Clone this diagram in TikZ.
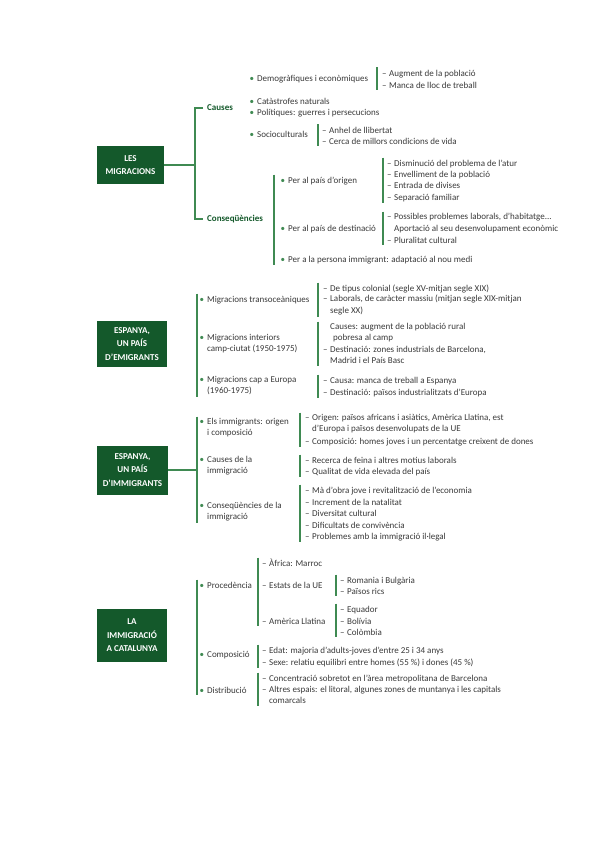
\documentclass[tikz,border=0pt]{standalone}
\usepackage{fontspec}
\setmainfont{Carlito}
\usetikzlibrary{calc}
\definecolor{boxg}{HTML}{14592B}
\definecolor{lineg}{HTML}{3F8A52}
\definecolor{txt}{HTML}{3A3A3A}
\newcommand{\st}{\rule{0pt}{7pt}}
\newcommand{\bu}{\llap{\textcolor{lineg}{•}\hspace{3.2pt}}}
\newcommand{\da}{\llap{–\hspace{2.6pt}}}
\newcommand{\gbar}[3]{\draw[bar] ($(#1.north west)+(-#3,-1.5)$) -- ($(#1.north west |- #2.south)+(-#3,1.5)$);}
\tikzset{
  item/.style={anchor=north west, inner sep=0pt, align=left, text=txt,
    font=\fontsize{9}{11.5}\selectfont, execute at begin node=\st},
  head/.style={anchor=west, inner sep=0pt, text=boxg, font=\bfseries\fontsize{9}{11}\selectfont},
  tbox/.style={fill=boxg, text=white, align=center, inner sep=0pt,
    font=\bfseries\fontsize{9}{13.5}\selectfont},
  bar/.style={draw=lineg, line width=1.1pt},
}
\begin{document}
\begin{tikzpicture}[x=1pt,y=-1pt]
\fill[white] (0,0) rectangle (599,848);
\useasboundingbox (0,0) rectangle (599,848);

% ================= Section 1 =================
\node[tbox, minimum width=67pt, minimum height=38pt] (lm) at (130.5,165) {LES\\MIGRACIONS};
\node[head] (causes) at (207,108) {Causes};
\node[head] (conseq) at (207,219) {Conseqüències};
\coordinate (b1) at (195,0);
\draw[bar] (lm.east) -- (lm.east -| b1);
\draw[bar] ([xshift=-4pt]causes.west) -- (causes.west -| b1) -- (conseq.west -| b1) -- ([xshift=-4pt]conseq.west);

\node[item] (ca1) at (257,74) {\bu Demogràfiques i econòmiques};
\node[item] (ca2) at (257,97) {\bu Catàstrofes naturals};
\node[item] (ca3) at (257,108) {\bu Polítiques: guerres i persecucions};
\node[item] (ca4) at (257,130) {\bu Socioculturals};

\node[item] (ca1a) at (389,69) {\da Augment de la població};
\node[item] (ca1b) at (389,81) {\da Manca de lloc de treball};
\gbar{ca1a}{ca1b}{12}
\node[item] (ca4a) at (329,126) {\da Anhel de llibertat};
\node[item] (ca4b) at (329,137) {\da Cerca de millors condicions de vida};
\gbar{ca4a}{ca4b}{11}

\node[item] (co1) at (288,176) {\bu Per al país d'origen};
\node[item] (co2) at (288,224) {\bu Per al país de destinació};
\node[item] (co3) at (288,255) {\bu Per a la persona immigrant: adaptació al nou medi};
\gbar{co1}{co3}{14}

\node[item] (co1a) at (394,159) {\da Disminució del problema de l'atur};
\node[item] (co1b) at (394,170) {\da Envelliment de la població};
\node[item] (co1c) at (394,181) {\da Entrada de divises};
\node[item] (co1d) at (394,193) {\da Separació familiar};
\gbar{co1a}{co1d}{11}
\node[item] (co2a) at (394,213) {\da Possibles problemes laborals, d'habitatge...\\Aportació al seu desenvolupament econòmic};
\node[item] (co2b) at (394,236) {\da Pluralitat cultural};
\gbar{co2a}{co2b}{11}

% ================= Section 2 =================
\node[tbox, minimum width=70pt, minimum height=46pt] (em) at (132,344) {ESPANYA,\\UN PAÍS\\D'EMIGRANTS};
\node[item] (e1) at (207,295) {\bu Migracions transoceàniques};
\node[item] (e2) at (207,334) {\bu Migracions interiors\\camp-ciutat (1950-1975)};
\node[item] (e3) at (207,376) {\bu Migracions cap a Europa\\(1960-1975)};
\gbar{e1}{e3}{10}

\node[item] (e1a) at (330,284) {\da De tipus colonial (segle XV-mitjan segle XIX)};
\node[item] (e1b) at (330,295) {\da Laborals, de caràcter massiu (mitjan segle XIX-mitjan\\segle XX)};
\gbar{e1a}{e1b}{12}
\node[item] (e2a) at (330,323) {Causes: augment de la població rural\\\hspace{3pt}pobresa al camp};
\node[item] (e2b) at (330,346) {\da Destinació: zones industrials de Barcelona,\\Madrid i el País Basc};
\gbar{e2a}{e2b}{12}
\node[item] (e3a) at (330,376) {\da Causa: manca de treball a Espanya};
\node[item] (e3b) at (330,388) {\da Destinació: països industrialitzats d'Europa};
\gbar{e3a}{e3b}{12}

% ================= Section 3 =================
\node[tbox, minimum width=71pt, minimum height=49pt] (im) at (132.5,470) {ESPANYA,\\UN PAÍS\\D'IMMIGRANTS};
\node[item] (f1) at (207,418) {\bu Els immigrants: origen\\i composició};
\node[item] (f2) at (207,456) {\bu Causes de la\\immigració};
\node[item] (f3) at (207,502) {\bu Conseqüències de la\\immigració};
\gbar{f1}{f3}{10}
\coordinate (b3) at (197,0);
\draw[bar] (im.east) -- (im.east -| b3);

\node[item] (f1a) at (312,414) {\da Origen: països africans i asiàtics, Amèrica Llatina, est\\d'Europa i països desenvolupats de la UE};
\node[item] (f1b) at (312,437) {\da Composició: homes joves i un percentatge creixent de dones};
\gbar{f1a}{f1b}{12}
\node[item] (f2a) at (312,456) {\da Recerca de feina i altres motius laborals};
\node[item] (f2b) at (312,467) {\da Qualitat de vida elevada del país};
\gbar{f2a}{f2b}{12}
\node[item] (f3a) at (312,486) {\da Mà d'obra jove i revitalització de l'economia};
\node[item] (f3b) at (312,498) {\da Increment de la natalitat};
\node[item] (f3c) at (312,509) {\da Diversitat cultural};
\node[item] (f3d) at (312,521) {\da Dificultats de convivència};
\node[item] (f3e) at (312,532) {\da Problemes amb la immigració il·legal};
\gbar{f3a}{f3e}{12}

% ================= Section 4 =================
\node[tbox, minimum width=70pt, minimum height=53pt] (cat) at (132,635.5) {LA\\IMMIGRACIÓ\\A CATALUNYA};
\node[item] (g1) at (207,581) {\bu Procedència};
\node[item] (g2) at (207,650) {\bu Composició};
\node[item] (g3) at (207,686) {\bu Distribució};
\gbar{g1}{g3}{10}

\node[item] (g1a) at (269,559) {\da Àfrica: Marroc};
\node[item] (g1b) at (269,581) {\da Estats de la UE};
\node[item] (g1c) at (269,617) {\da Amèrica Llatina};
\gbar{g1a}{g1c}{11}
\node[item] (g1b1) at (347,576) {\da Romania i Bulgària};
\node[item] (g1b2) at (347,587) {\da Països rics};
\gbar{g1b1}{g1b2}{11}
\node[item] (g1c1) at (347,605) {\da Equador};
\node[item] (g1c2) at (347,617) {\da Bolívia};
\node[item] (g1c3) at (347,628) {\da Colòmbia};
\gbar{g1c1}{g1c3}{11}
\node[item] (g2a) at (269,646) {\da Edat: majoria d'adults-joves d'entre 25 i 34 anys};
\node[item] (g2b) at (269,658) {\da Sexe: relatiu equilibri entre homes (55 \%) i dones (45 \%)};
\gbar{g2a}{g2b}{11}
\node[item] (g3a) at (269,674) {\da Concentració sobretot en l'àrea metropolitana de Barcelona};
\node[item] (g3b) at (269,686) {\da Altres espais: el litoral, algunes zones de muntanya i les capitals\\comarcals};
\gbar{g3a}{g3b}{11}
\end{tikzpicture}
\end{document}
